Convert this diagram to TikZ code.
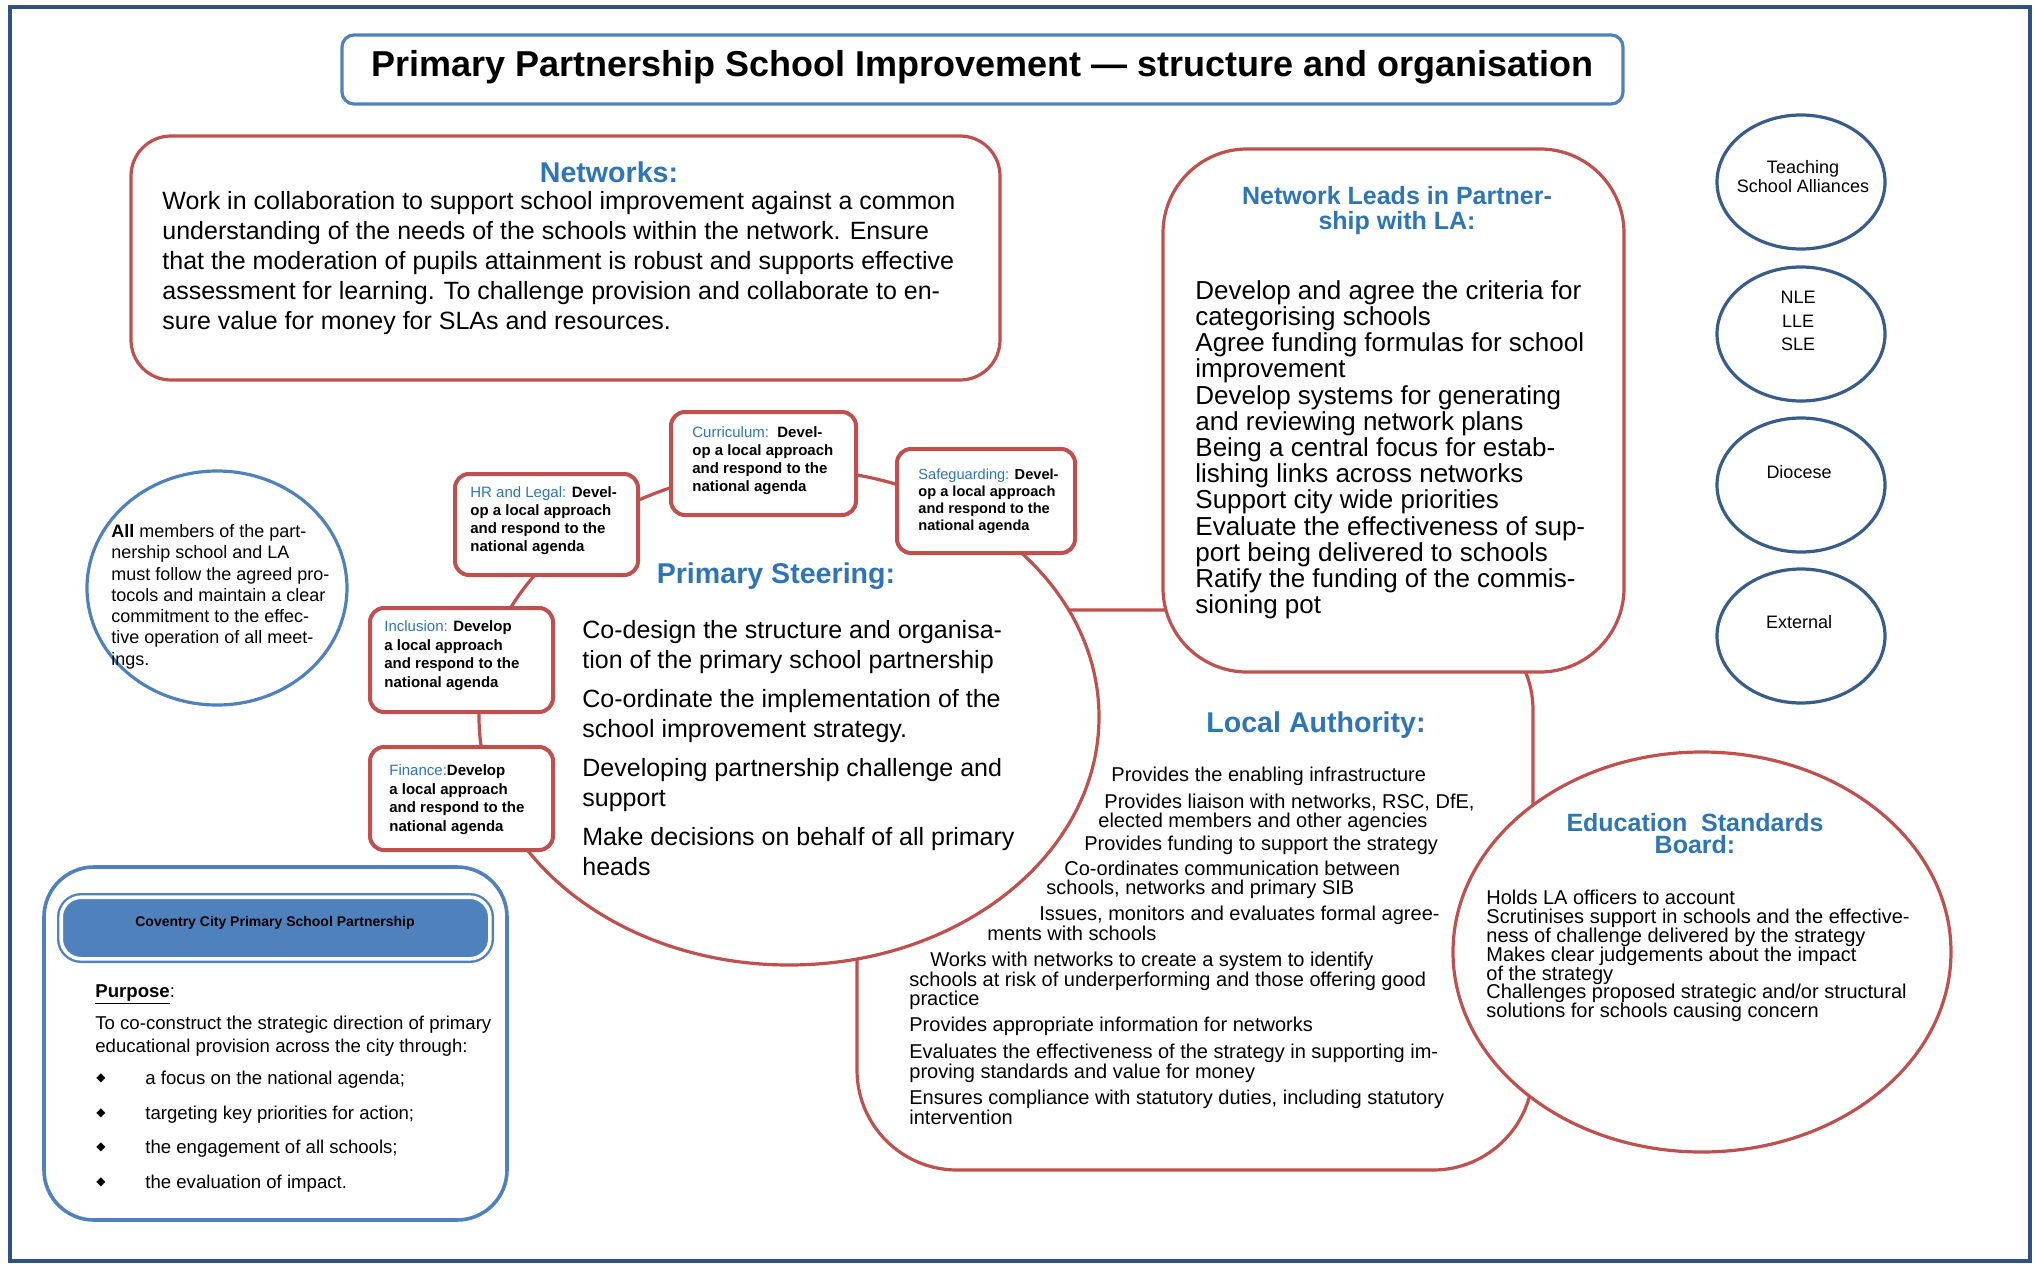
\documentclass[tikz,border=0pt]{standalone}
\usepackage{fontspec}
\setmainfont{Liberation Sans}
\newfontfamily\symbolfont{DejaVu Sans}
\usetikzlibrary{shapes.geometric}

\begin{document}
\begin{tikzpicture}[x=0.5pt,y=-0.5pt]
  % Colors
  \definecolor{boxred}{HTML}{C0504D}
  \definecolor{boxblue}{HTML}{4F81BD}
  \definecolor{darkblue}{HTML}{385D8A}
  \definecolor{frameblue}{HTML}{2F5186}
  \definecolor{headblue}{HTML}{2E75B6}

  % Styles
  \tikzstyle{red box}=[draw=boxred,line width=1.6pt,fill=white,inner sep=0pt]
  \tikzstyle{small box}=[red box,line width=2pt,rounded corners=7pt]
  \tikzstyle{heading}=[text=headblue,inner sep=0pt,font=\fontsize{14.3}{16}\selectfont\bfseries]
  \tikzstyle{body text}=[align=left,inner sep=0pt,font=\fontsize{12.5}{15}\selectfont]
  \tikzstyle{small text}=[align=left,inner sep=0pt,font=\fontsize{10}{9.4}\selectfont]
  \tikzstyle{box text}=[align=left,inner sep=0pt,font=\fontsize{7.5}{9}\selectfont\bfseries]
  \tikzstyle{partner circle}=[ellipse,draw=darkblue,line width=1.6pt,minimum width=84pt,minimum height=67pt,inner sep=0pt]
  \tikzstyle{circle text}=[align=center,inner sep=0pt,font=\fontsize{9}{8}\selectfont]
  \tikzstyle{purpose text}=[align=left,inner sep=0pt,font=\fontsize{9.3}{11.5}\selectfont]

  % The graphic
  \useasboundingbox (0,0) rectangle (2036,1264);
  \draw[frameblue,line width=2pt] (10,7) rectangle (2030,1261);

  % Title
  \node[draw=boxblue,line width=1.6pt,rounded corners=6pt,minimum width=640.5pt,minimum height=34.5pt,inner sep=0pt] (titlebox) at (982.5,69.5) {};
  \node[anchor=base,inner sep=0pt,font=\fontsize{18}{20}\selectfont\bfseries] (title) at (982.5,76)
    {Primary Partnership School Improvement — structure and organisation};

  % Networks
  \node[red box,rounded corners=20pt,minimum width=434.5pt,minimum height=122pt] (netbox) at (565.5,258) {};
  \node[heading,anchor=base] (nethead) at (609,182) {Networks:};
  \node[body text,anchor=north west] (nettext) at (162,191)
    {Work in collaboration to support school improvement against a common\\
     understanding of the needs of the schools within the network. Ensure\\
     that the moderation of pupils attainment is robust and supports effective\\
     assessment for learning. To challenge provision and collaborate to en-\\
     sure value for money for SLAs and resources.};

  % Local Authority (behind the other shapes)
  \node[red box,rounded corners=50pt,minimum width=338pt,minimum height=280pt] (labox) at (1195,890) {};

  % Primary Steering
  \node[red box,ellipse,minimum width=310pt,minimum height=248pt] (steer) at (789,717) {};
  \node[heading,anchor=base] (steerhead) at (776,583) {Primary Steering:};
  \node[body text,anchor=north west] (steertext) at (582,620)
    {Co-design the structure and organisa-\\
     tion of the primary school partnership\\[4.5pt]
     Co-ordinate the implementation of the\\
     school improvement strategy.\\[4.5pt]
     Developing partnership challenge and\\
     support\\[4.5pt]
     Make decisions on behalf of all primary\\
     heads};

  % Network Leads
  \node[red box,rounded corners=42pt,minimum width=230.5pt,minimum height=261.5pt] (leadbox) at (1393.5,410.5) {};
  \node[heading,anchor=north,align=center,font=\fontsize{12.5}{12.25}\selectfont\bfseries] (leadhead) at (1397,186)
    {Network Leads in Partner-\\ship with LA:};
  \node[body text,anchor=north west,font=\fontsize{13}{13.1}\selectfont] (leadtext) at (1195,280)
    {Develop and agree the criteria for\\
     categorising schools\\
     Agree funding formulas for school\\
     improvement\\
     Develop systems for generating\\
     and reviewing network plans\\
     Being a central focus for estab-\\
     lishing links across networks\\
     Support city wide priorities\\
     Evaluate the effectiveness of sup-\\
     port being delivered to schools\\
     Ratify the funding of the commis-\\
     sioning pot};

  % Education Standards Board
  \node[red box,ellipse,minimum width=249pt,minimum height=200pt] (esb) at (1702,952) {};
  \node[heading,anchor=north,align=center,font=\fontsize{12.5}{11.2}\selectfont\bfseries] (esbhead) at (1695,813)
    {Education \ Standards\\Board:};
  \node[small text,anchor=north west] (esbtext) at (1486,890)
    {Holds LA officers to account\\
     Scrutinises support in schools and the effective-\\
     ness of challenge delivered by the strategy\\
     Makes clear judgements about the impact\\
     of the strategy\\
     Challenges proposed strategic and/or structural\\
     solutions for schools causing concern};

  % Local Authority text
  \node[heading,anchor=base] (lahead) at (1316,732) {Local Authority:};
  \foreach \lx/\ly/\ltext [count=\i] in {
      {1111/774/Provides the enabling infrastructure},
      {1104/801/Provides liaison with networks, RSC, DfE,},
      {1098/820/elected members and other agencies},
      {1084/843/Provides funding to support the strategy},
      {1064/868/Co-ordinates communication between},
      {1046/887/schools, networks and primary SIB},
      {1039/913/Issues, monitors and evaluates formal agree-},
      {987/933/ments with schools},
      {930/959/Works with networks to create a system to identify},
      {909/979/schools at risk of underperforming and those offering good},
      {909/998/practice},
      {909/1024/Provides appropriate information for networks},
      {909/1051/Evaluates the effectiveness of the strategy in supporting im-},
      {909/1071/proving standards and value for money},
      {909/1097/Ensures compliance with statutory duties, including statutory},
      {909/1117/intervention}}
    \node[small text,anchor=base west] (la\i) at (\lx,\ly+7) {\ltext};

  % Working groups on the steering circle
  \node[small box,minimum width=91.5pt,minimum height=50.5pt] (hr) at (546.5,524.5) {};
  \node[small box,minimum width=92.5pt,minimum height=51.5pt] (curric) at (763.5,463.5) {};
  \node[small box,minimum width=89pt,minimum height=52pt] (safe) at (986,501) {};
  \node[small box,minimum width=91.5pt,minimum height=52pt] (incl) at (461.5,660) {};
  \node[small box,minimum width=91.5pt,minimum height=51.5pt] (fin) at (461.5,798.5) {};

  \node[box text,anchor=north west] (hrtext) at (470,486.5)
    {{\mdseries\color{headblue}HR and Legal:} Devel-\\op a local approach\\and respond to the\\national agenda};
  \node[box text,anchor=north west] (curtext) at (692,426.5)
    {{\mdseries\color{headblue}Curriculum:}\ \ Devel-\\op a local approach\\and respond to the\\national agenda};
  \node[box text,anchor=north west,font=\fontsize{7.3}{8.5}\selectfont\bfseries] (safetext) at (918,468.5)
    {{\mdseries\color{headblue}Safeguarding:} Devel-\\op a local approach\\and respond to the\\national agenda};
  \node[box text,anchor=north west,font=\fontsize{7.5}{9.3}\selectfont\bfseries] (incltext) at (384,620.5)
    {{\mdseries\color{headblue}Inclusion:} Develop\\a local approach\\and respond to the\\national agenda};
  \node[box text,anchor=north west,font=\fontsize{7.5}{9.3}\selectfont\bfseries] (fintext) at (389,764.5)
    {{\mdseries\color{headblue}Finance:}Develop\\a local approach\\and respond to the\\national agenda};

  % Members
  \node[ellipse,draw=boxblue,line width=1.6pt,minimum width=130pt,minimum height=117pt,inner sep=0pt] (members) at (217,588) {};
  \node[align=left,inner sep=0pt,anchor=north west,font=\fontsize{9}{10.65}\selectfont] (memtext) at (111,524)
    {\textbf{All} members of the part-\\
     nership school and LA\\
     must follow the agreed pro-\\
     tocols and maintain a clear\\
     commitment to the effec-\\
     tive operation of all meet-\\
     ings.};

  % Partners
  \node[partner circle] (tsa) at (1801,182) {};
  \node[partner circle] (nle) at (1801,334) {};
  \node[partner circle] (diocese) at (1801,485) {};
  \node[partner circle] (external) at (1801,636) {};
  \node[circle text,anchor=north] (tsatext) at (1803,160) {Teaching\\School Alliances};
  \node[circle text,anchor=north,font=\fontsize{9}{11.75}\selectfont] (nletext) at (1798,291) {NLE\\LLE\\SLE};
  \node[circle text,anchor=base] (diotext) at (1799,478.5) {Diocese};
  \node[circle text,anchor=base] (exttext) at (1799,628.5) {External};

  % Coventry City Primary School Partnership
  \node[draw=boxblue,line width=1.8pt,rounded corners=25pt,minimum width=231.5pt,minimum height=176.5pt,inner sep=0pt] (ccpsp) at (275.5,1043.5) {};
  \node[draw=boxblue,double=white,double distance=1.8pt,line width=1.2pt,fill=boxblue,rounded corners=10pt,minimum width=214.3pt,minimum height=30.8pt,inner sep=0pt] (ccpsphead) at (275.5,928) {};
  \node[anchor=base,inner sep=0pt,font=\fontsize{7}{8}\selectfont\bfseries] (ccpsptitle) at (275,926)
    {Coventry City Primary School Partnership};
  \node[purpose text,anchor=base west] (purpose) at (95,997) {\textbf{\underline{Purpose}}:};
  \node[purpose text,anchor=north west] (purposetext) at (95,1016)
    {To co-construct the strategic direction of primary\\educational provision across the city through:};
  \foreach \by/\btext [count=\i] in {
      1078/{a focus on the national agenda;},
      1113/{targeting key priorities for action;},
      1147/{the engagement of all schools;},
      1182/{the evaluation of impact.}}
    {
    \node[inner sep=0pt,font=\fontsize{6}{6}\symbolfont] (bullet\i) at (101,\by) {◆};
    \node[purpose text,anchor=base west] (point\i) at (145,\by+6.7) {\btext};
    }
\end{tikzpicture}
\end{document}
